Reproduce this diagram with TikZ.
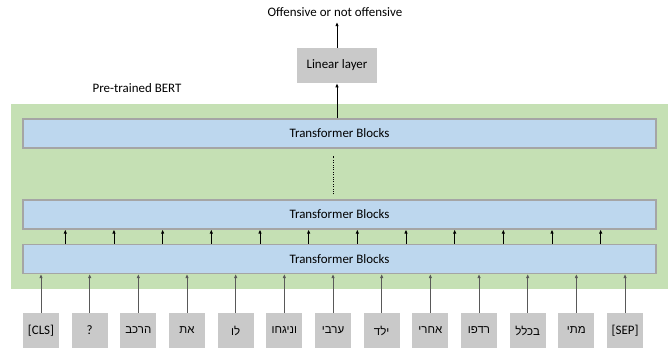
\documentclass[tikz,border=0pt]{standalone}
\usepackage{fontspec}
\setmainfont{Carlito}
\newfontfamily\hebfont[Script=Hebrew]{Liberation Sans}
\TeXXeTstate=1
\usetikzlibrary{arrows.meta,positioning,calc}

\definecolor{bertgreen}{HTML}{C5E0B4}
\definecolor{blockblue}{HTML}{BDD7EE}
\definecolor{blockedge}{HTML}{A5A5A5}
\definecolor{tokgray}{HTML}{C9C9C9}

\newcommand{\heb}[1]{{\hebfont\fontsize{8.6}{10}\selectfont\beginR #1\endR}}

\begin{document}
\begin{tikzpicture}[
    x=0.75pt, y=-0.75pt,
    font=\fontsize{9.7}{11.6}\selectfont,
    tblock/.style={
        rectangle,
        draw=blockedge,
        line width=0.8pt,
        fill=blockblue,
        minimum width=633*0.75pt,
        minimum height=29*0.75pt,
        inner sep=0pt
    },
    token/.style={
        rectangle,
        fill=tokgray,
        minimum width=36*0.75pt,
        minimum height=35*0.75pt,
        inner sep=0pt
    },
    linear/.style={
        rectangle,
        fill=tokgray,
        minimum width=80*0.75pt,
        minimum height=35*0.75pt,
        inner sep=0pt
    },
    line/.style={
        draw,
        -{Latex[length=3pt,width=2.6pt]},
        line width=0.6pt
    }
]
    \useasboundingbox (0,0) rectangle (668,348);

    % BERT background
    \fill [bertgreen] (11,104) rectangle (668,289);
    \node [anchor=west] (bert) at (88,88) {Pre-trained BERT};

    % Transformer blocks
    \node [tblock] (blkC) at (339.5,133.5) {Transformer Blocks};
    \node [tblock] (blkB) at (339.5,214.5) {Transformer Blocks};
    \node [tblock] (blkA) at (339.5,259) {Transformer Blocks};

    % Head
    \node [linear] (lin) at (337,65.5) {Linear layer};
    \node [inner sep=1pt] (out) at (335,12) {Offensive or not offensive};

    % Tokens
    \foreach \w [count=\i] in {[CLS], ?, \heb{הרכב}, \heb{את}, \heb{לו}, \heb{וניגחו}, \heb{ערבי}, \heb{ילד}, \heb{אחרי}, \heb{רדפו}, \heb{בכלל}, \heb{מתי}, [SEP]} {
        \node [token] (t\i) at ({41+48.67*(\i-1)},330.5) {\w};
    }

    % Edges
    \foreach \i in {1,...,13} {
        \path [line, draw=black!65] (t\i.north) -- (t\i.north |- blkA.south);
    }
    \foreach \i in {1,...,12} {
        \coordinate (m\i) at ({65.3+48.67*(\i-1)},0);
        \path [line] (m\i |- blkA.north) -- (m\i |- blkB.south);
    }
    \draw [densely dotted, line width=0.8pt] ($(blkB.north)+(-6,-5)$) -- ($(blkC.south)+(-6,7)$);
    \path [line] (lin.south |- blkC.north) -- (lin.south);
    \path [line, shorten >=3pt] (lin.north) -- (lin.north |- out.south);

\end{tikzpicture}
\end{document}
